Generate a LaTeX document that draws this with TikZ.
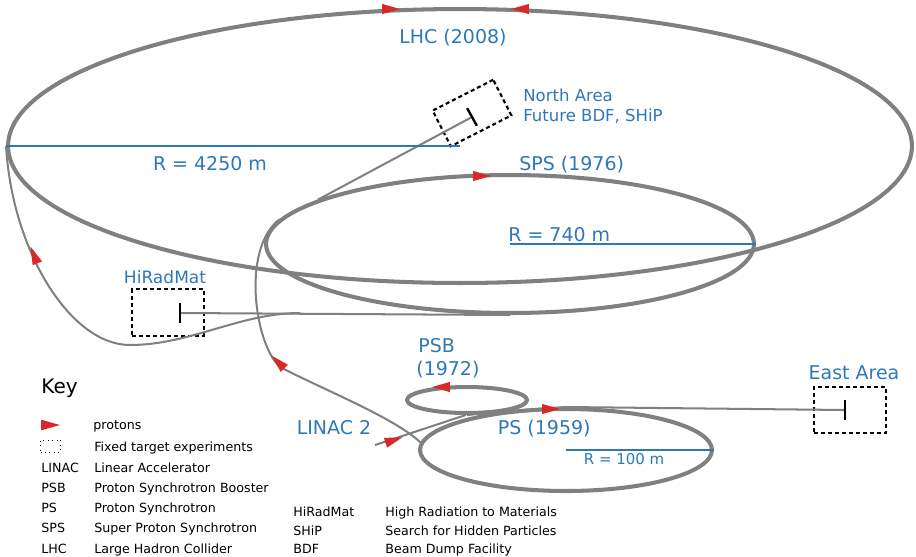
\documentclass[tikz,border=0pt]{standalone}
\usepackage{fontspec}
\setmainfont{DejaVu Sans}
\usepackage{tikz}
\usetikzlibrary{shapes.geometric,calc}
\definecolor{ringgray}{HTML}{808080}
\definecolor{labelblue}{HTML}{2E78B8}
\definecolor{protonred}{HTML}{D62A2A}

\begin{document}
\begin{tikzpicture}[x=0.02cm,y=-0.02cm,
  ring/.style={ellipse,draw=ringgray,line width=2.3pt,inner sep=0pt},
  line/.style={draw=ringgray,line width=1.15pt},
  rad/.style={draw=labelblue,line width=0.6pt},
  lbl/.style={text=labelblue,font=\fontsize{10.8}{13}\selectfont,inner sep=0pt},
  lblsmall/.style={text=labelblue,font=\fontsize{9.4}{11}\selectfont,inner sep=0pt},
  fixed/.style={draw,dash pattern=on 2.3pt off 1.7pt,line width=1.2pt,minimum width=1.44cm,minimum height=0.93cm,inner sep=0pt},
  bar/.style={fill=black,minimum width=1.35pt,minimum height=0.4cm,inner sep=0pt,outer sep=0pt},
  keytxt/.style={font=\fontsize{7.2}{9}\selectfont,anchor=base west,inner sep=0pt},
  proton/.pic={\fill[protonred] (5.1pt,0pt) -- (-5.1pt,2.9pt) -- (-5.1pt,-2.9pt) -- cycle;}]
  \useasboundingbox (0,0) rectangle (916,556);

  % rings
  \node[ring,minimum width=18.08cm,minimum height=5.48cm] (lhc) at (460,146) {};
  \node[ring,minimum width=9.76cm,minimum height=2.76cm] (sps) at (510,244) {};
  \node[ring,minimum width=5.84cm,minimum height=1.64cm] (ps) at (566,450) {};
  \node[ring,minimum width=2.4cm,minimum height=0.52cm] (psb) at (467,400) {};

  % experiments
  \node[fixed] (hrm) at (168,312.5) {};
  \node[bar] (hrmbar) at (180,313) {};
  \node[fixed] (ea) at (850,410) {};
  \node[bar] (eabar) at (845,410) {};
  \node[fixed,minimum width=1.36cm,minimum height=0.8cm,rotate=27] (na) at (472,113) {};
  \node[bar,rotate=29] (nabar) at (472,117) {};

  % transfer lines
  \coordinate (linac) at (375,445);
  \coordinate (ti2) at (300,313);
  \draw[line] (linac) -- (psb.265);
  \draw[line] (psb.south) .. controls (500,412) and (530,409) .. (ps.north) -- (eabar);
  \draw[line] (ps.177) .. controls (395,418) and (320,388) .. (280,367)
    .. controls (255,345) and (241,250) .. (sps.174);
  \draw[line] (sps.167) -- (nabar);
  \draw[line] (sps.south) -- (hrmbar);
  \draw[line] (ti2) .. controls (240,313) and (190,345) .. (130,345)
    .. controls (70,345) and (12,250) .. (lhc.west);

  % radii
  \draw[rad] (lhc.center) -- (lhc.west);
  \draw[rad] (sps.center) -- (sps.east);
  \draw[rad] (ps.center) -- (ps.east);

  % protons
  \pic at (391,9) {proton};
  \pic[rotate=180] at (520,9) {proton};
  \pic at (482,176) {proton};
  \pic[rotate=180] at (441,387) {proton};
  \pic at (551,409) {proton};
  \pic[rotate=18] at (394,440) {proton};
  \pic[rotate=135] at (278,362) {proton};
  \pic[rotate=112] at (34,255) {proton};

  % labels
  \node[lbl,anchor=base] (lhclbl) at (453,43) {LHC (2008)};
  \node[lbl,anchor=base] (lhcr) at (210,170) {R = 4250 m};
  \node[lblsmall,anchor=base west] (nalbl) at (523,101) {North Area};
  \node[lblsmall,anchor=base west] (bdflbl) at (523,121.7) {Future BDF, SHiP};
  \node[lbl,anchor=base west] (spslbl) at (519,170) {SPS (1976)};
  \node[lbl,anchor=base west] (spsr) at (508,241.7) {R = 740 m};
  \node[lblsmall,anchor=base,font=\fontsize{9.7}{11}\selectfont] (hrmlbl) at (165,283.3) {HiRadMat};
  \node[lbl,anchor=base west] (psblbl) at (418,352.7) {PSB};
  \node[lbl,anchor=base west] (psbyr) at (416,375.7) {(1972)};
  \node[lbl,anchor=base] (ealbl) at (854,379.3) {East Area};
  \node[lbl,anchor=base] (linaclbl) at (334,434.3) {LINAC 2};
  \node[lbl,anchor=base west] (pslbl) at (497.6,434) {PS (1959)};
  \node[lbl,anchor=base,font=\fontsize{8.5}{10}\selectfont] (psr) at (624,464) {R = 100 m};

  % key
  \node[anchor=base west,inner sep=0pt,font=\fontsize{11.4}{14}\selectfont] (key) at (41,393.3) {Key};
  \pic[scale=1.05] at (50.5,425) {proton};
  \node[draw,dotted,line width=0.5pt,minimum width=0.4cm,minimum height=0.24cm,inner sep=0pt] (keybox) at (50.7,446) {};
  \node[keytxt] (kprot) at (93,429.3) {protons};
  \node[keytxt] (kfix) at (94,451.7) {Fixed target experiments};
  \foreach \y/\a/\t in {472.7/LINAC/Linear Accelerator, 492.7/PSB/Proton Synchrotron Booster,
                        512.7/PS/Proton Synchrotron, 532.7/SPS/Super Proton Synchrotron,
                        553.3/LHC/Large Hadron Collider}
    {\node[keytxt] (ka\a) at (41,\y) {\a};
     \node[keytxt] (kt\a) at (94,\y) {\t};}
  \foreach \y/\a/\t in {516/HiRadMat/High Radiation to Materials, 535/SHiP/Search for Hidden Particles,
                        553.3/BDF/Beam Dump Facility}
    {\node[keytxt] (ka\a) at (293,\y) {\a};
     \node[keytxt] (kt\a) at (385,\y) {\t};}
\end{tikzpicture}
\end{document}
